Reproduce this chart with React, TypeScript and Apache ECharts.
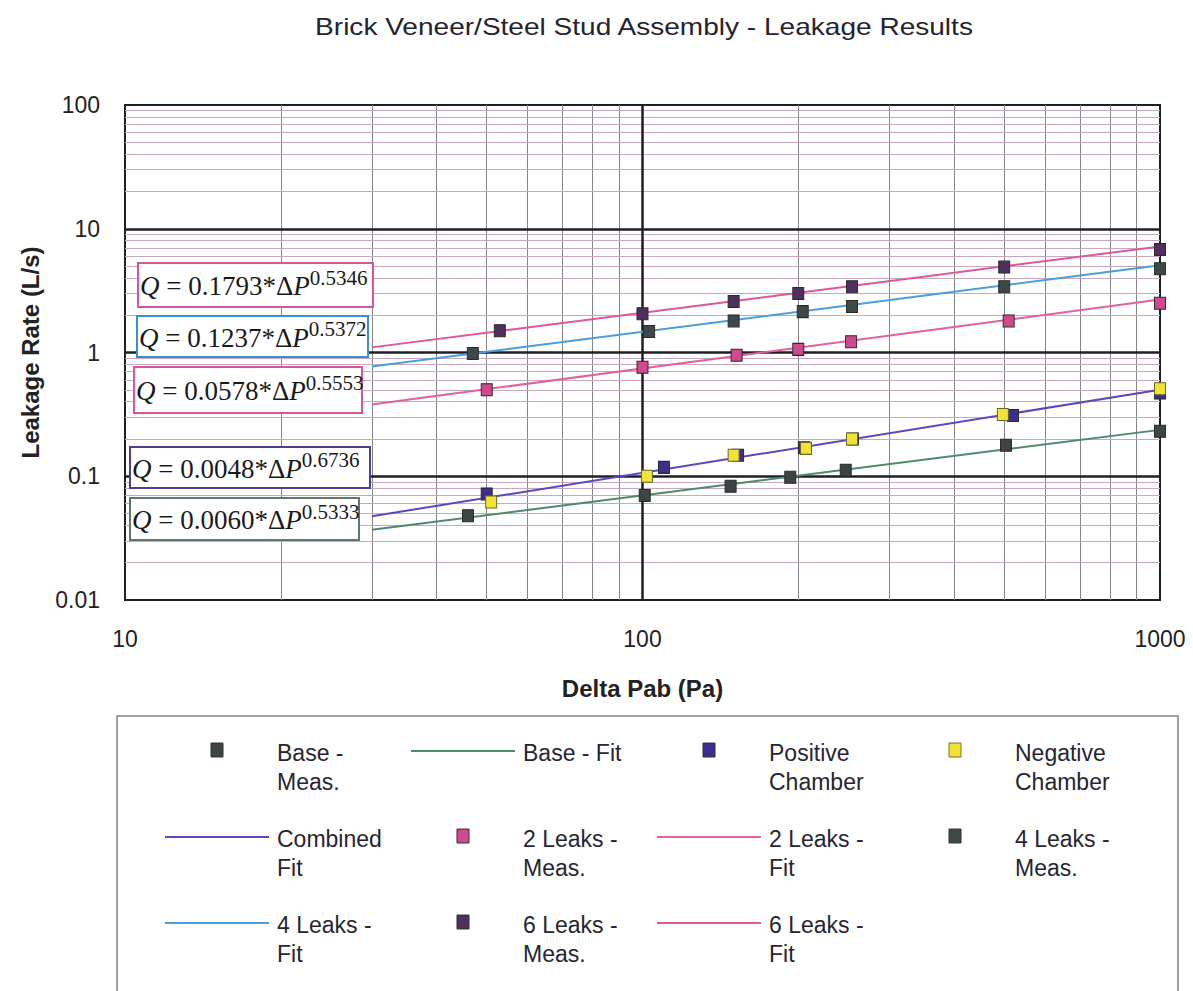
import React, { useEffect, useRef } from "react";
import * as echarts from "echarts";

// ---------- data ----------
const BASE_MEAS: [number, number][] = [[46, 0.048], [101, 0.070], [148, 0.083], [193, 0.098], [247, 0.112], [504, 0.178], [1000, 0.231]];
const BASE_FIT: [number, number][] = [[30, 0.037], [1000, 0.237]];
const POSITIVE: [number, number][] = [[50, 0.072], [110, 0.118], [153, 0.148], [205, 0.170], [255, 0.200], [520, 0.31], [1000, 0.47]];
const NEGATIVE: [number, number][] = [[51, 0.062], [102, 0.100], [150, 0.148], [207, 0.168], [254, 0.200], [497, 0.316], [1000, 0.51]];
const COMBINED_FIT: [number, number][] = [[30, 0.0475], [1000, 0.50]];
const LEAKS2_MEAS: [number, number][] = [[50, 0.50], [100, 0.76], [152, 0.95], [200, 1.06], [253, 1.22], [510, 1.80], [1000, 2.50]];
const LEAKS2_FIT: [number, number][] = [[30, 0.38], [1000, 2.68]];
const LEAKS4_MEAS: [number, number][] = [[47, 0.98], [103, 1.48], [150, 1.80], [204, 2.14], [254, 2.35], [500, 3.40], [1000, 4.75]];
const LEAKS4_FIT: [number, number][] = [[30, 0.77], [1000, 5.06]];
const LEAKS6_MEAS: [number, number][] = [[53, 1.50], [100, 2.06], [150, 2.58], [200, 3.00], [254, 3.40], [500, 4.90], [1000, 6.80]];
const LEAKS6_FIT: [number, number][] = [[30, 1.10], [1000, 7.20]];

const EQ_COEFS = ["0.1793", "0.1237", "0.0578", "0.0048", "0.0060"];
const EQ_EXPS = ["0.5346", "0.5372", "0.5553", "0.6736", "0.5333"];

const X_MAJOR = [100];
const Y_MAJOR = [0.1, 1, 10];
const X_MINOR = [20, 30, 40, 50, 60, 70, 80, 90, 200, 300, 400, 500, 600, 700, 800, 900];
const Y_MINOR = [
  0.02, 0.03, 0.04, 0.05, 0.06, 0.07, 0.08, 0.09,
  0.2, 0.3, 0.4, 0.5, 0.6, 0.7, 0.8, 0.9,
  2, 3, 4, 5, 6, 7, 8, 9,
  20, 30, 40, 50, 60, 70, 80, 90,
];

const TITLE = "Brick Veneer/Steel Stud Assembly - Leakage Results";
const X_NAME = "Delta Pab (Pa)";
const Y_NAME = "Leakage Rate (L/s)";

// ---------- styles / layout ----------
const C = {
  baseMeas: "#3c4446",
  baseFit: "#4e8a68",
  positive: "#3a2f90",
  negative: "#f2e232",
  combinedFit: "#5a48c0",
  leaks2Meas: "#d0488e",
  leaks2Fit: "#e2609f",
  leaks4Meas: "#3e4848",
  leaks4Fit: "#4a9ee0",
  leaks6Meas: "#4e3060",
  leaks6Fit: "#e0569a",
};

const EQ_BOXES = [
  { l: 138, t: 263, w: 235, h: 44, color: "#d9559a" },
  { l: 137, t: 316, w: 231, h: 41, color: "#3b8ed6" },
  { l: 134, t: 367, w: 228, h: 46, color: "#d9559a" },
  { l: 130, t: 447, w: 240, h: 41, color: "#4a3f96" },
  { l: 130, t: 498, w: 229, h: 42, color: "#5f7570" },
];

type LegendItem = { name: string; kind: "marker" | "line"; color: string; border?: string; col: number; row: number };
const LEGEND: LegendItem[] = [
  { name: "Base -\nMeas.", kind: "marker", color: C.baseMeas, col: 0, row: 0 },
  { name: "Base - Fit", kind: "line", color: C.baseFit, col: 1, row: 0 },
  { name: "Positive\nChamber", kind: "marker", color: C.positive, col: 2, row: 0 },
  { name: "Negative\nChamber", kind: "marker", color: C.negative, border: "#7a7030", col: 3, row: 0 },
  { name: "Combined\nFit", kind: "line", color: C.combinedFit, col: 0, row: 1 },
  { name: "2 Leaks -\nMeas.", kind: "marker", color: C.leaks2Meas, col: 1, row: 1 },
  { name: "2 Leaks -\nFit", kind: "line", color: C.leaks2Fit, col: 2, row: 1 },
  { name: "4 Leaks -\nMeas.", kind: "marker", color: C.leaks4Meas, col: 3, row: 1 },
  { name: "4 Leaks -\nFit", kind: "line", color: C.leaks4Fit, col: 0, row: 2 },
  { name: "6 Leaks -\nMeas.", kind: "marker", color: C.leaks6Meas, col: 1, row: 2 },
  { name: "6 Leaks -\nFit", kind: "line", color: C.leaks6Fit, col: 2, row: 2 },
];
const LEG_TEXT_X = [277, 523, 769, 1015];
const LEG_ROW_Y = [745, 831, 917];

const SANS = '"Liberation Sans", Arial, sans-serif';
const SERIF = '"Liberation Serif", "Times New Roman", serif';

function scatter(name: string, data: [number, number][], color: string, border = "#2a2a2a") {
  return {
    type: "scatter",
    name,
    data,
    symbol: "rect",
    symbolSize: [11, 12],
    z: 5,
    itemStyle: { color, borderColor: border, borderWidth: 1, opacity: 1 },
  };
}
function fit(name: string, data: [number, number][], color: string) {
  return {
    type: "line",
    name,
    data,
    symbol: "none",
    showSymbol: false,
    z: 4,
    lineStyle: { color, width: 2 },
  };
}

export default function App() {
  const ref = useRef<HTMLDivElement>(null);
  useEffect(() => {
    document.body.style.margin = "0";
    document.body.style.overflow = "hidden";
    const chart = echarts.init(ref.current!, null, { renderer: "svg" });

    const graphics: any[] = [];
    // title
    graphics.push({
      type: "text",
      x: 644,
      y: 27,
      scaleX: 1.22,
      z: 10,
      style: { text: TITLE, font: `normal 23px ${SANS}`, fill: "#24242f", align: "center", verticalAlign: "middle" },
    });
    // equation boxes
    EQ_BOXES.forEach((b, i) => {
      graphics.push({
        type: "rect",
        z: 10,
        shape: { x: b.l, y: b.t, width: b.w, height: b.h },
        style: { fill: "#fff", stroke: b.color, lineWidth: 2 },
      });
      graphics.push({
        type: "text",
        z: 11,
        x: b.l + 2,
        y: b.t + b.h / 2 + 1,
        style: {
          text: `{q|Q}{n| = ${EQ_COEFS[i]}*Δ}{q|P}{s|${EQ_EXPS[i]}}`,
          align: "left",
          verticalAlign: "middle",
          fill: "#1a1a1a",
          rich: {
            q: { fontFamily: SERIF, fontStyle: "italic", fontSize: 27, lineHeight: 38, fill: "#1a1a1a" },
            n: { fontFamily: SERIF, fontSize: 27, lineHeight: 38, fill: "#1a1a1a" },
            s: { fontFamily: SERIF, fontSize: 21, lineHeight: 21, verticalAlign: "top", fill: "#1a1a1a" },
          },
        },
      });
    });
    // legend box
    graphics.push({
      type: "rect",
      z: 10,
      shape: { x: 117, y: 716, width: 1061, height: 300 },
      style: { fill: "#fff", stroke: "#a0a0a8", lineWidth: 2 },
    });
    LEGEND.forEach((it) => {
      const tx = LEG_TEXT_X[it.col];
      const ty = LEG_ROW_Y[it.row];
      if (it.kind === "marker") {
        graphics.push({
          type: "rect",
          z: 11,
          shape: { x: tx - 66, y: ty - 2, width: 12, height: 14 },
          style: { fill: it.color, stroke: it.border || "#333", lineWidth: 1 },
        });
      } else {
        graphics.push({
          type: "line",
          z: 11,
          shape: { x1: tx - 112, y1: ty + 6, x2: tx - 8, y2: ty + 6 },
          style: { stroke: it.color, lineWidth: 2 },
        });
      }
      graphics.push({
        type: "text",
        z: 11,
        x: tx,
        y: ty - 7,
        style: { text: it.name, font: `normal 23px ${SANS}`, lineHeight: 29, fill: "#262630", align: "left", verticalAlign: "top" },
      });
    });

    const option: any = {
      animation: false,
      backgroundColor: "#fff",
      grid: { left: 125, top: 105, width: 1035, height: 495, show: true, borderColor: "#1e1e24", borderWidth: 2, backgroundColor: "#fff", containLabel: false },
      xAxis: {
        type: "log",
        logBase: 10,
        min: 10,
        max: 1000,
        name: X_NAME,
        nameLocation: "middle",
        nameGap: 76,
        nameTextStyle: { fontFamily: SANS, fontWeight: "bold", fontSize: 24, color: "#222" },
        axisLine: { show: false },
        axisTick: { show: false },
        splitLine: { show: false },
        axisLabel: { fontFamily: SANS, fontSize: 23, color: "#222", margin: 27, formatter: (v: number) => String(v) },
      },
      yAxis: {
        type: "log",
        logBase: 10,
        min: 0.01,
        max: 100,
        name: Y_NAME,
        nameLocation: "middle",
        nameGap: 83,
        nameRotate: 90,
        nameTextStyle: { fontFamily: SANS, fontWeight: "bold", fontSize: 24, color: "#222" },
        axisLine: { show: false },
        axisTick: { show: false },
        splitLine: { show: false },
        axisLabel: { fontFamily: SANS, fontSize: 23, color: "#222", margin: 25, formatter: (v: number) => String(v) },
      },
      graphic: graphics,
      series: [
        {
          type: "line",
          name: "minor-grid",
          data: [],
          silent: true,
          z: 1,
          markLine: {
            silent: true,
            z: 1,
            symbol: ["none", "none"],
            label: { show: false },
            emphasis: { disabled: true },
            animation: false,
            data: [
              ...X_MINOR.map((v) => ({ xAxis: v, lineStyle: { color: "#858589", width: 1, type: "solid" } })),
              ...Y_MINOR.map((v) => ({ yAxis: v, lineStyle: { color: "#c8a8bf", width: 1, type: "solid" } })),
            ],
          },
        },
        {
          type: "line",
          name: "major-grid",
          data: [],
          silent: true,
          z: 2,
          markLine: {
            silent: true,
            z: 2,
            symbol: ["none", "none"],
            label: { show: false },
            emphasis: { disabled: true },
            animation: false,
            data: [
              ...X_MAJOR.map((v) => ({ xAxis: v, lineStyle: { color: "#1e1e24", width: 2.5, type: "solid" } })),
              ...Y_MAJOR.map((v) => ({ yAxis: v, lineStyle: { color: "#1e1e24", width: 2.5, type: "solid" } })),
            ],
          },
        },
        fit("Base - Fit", BASE_FIT, C.baseFit),
        fit("Combined Fit", COMBINED_FIT, C.combinedFit),
        fit("2 Leaks - Fit", LEAKS2_FIT, C.leaks2Fit),
        fit("4 Leaks - Fit", LEAKS4_FIT, C.leaks4Fit),
        fit("6 Leaks - Fit", LEAKS6_FIT, C.leaks6Fit),
        scatter("Base - Meas.", BASE_MEAS, C.baseMeas),
        scatter("Positive Chamber", POSITIVE, C.positive),
        scatter("Negative Chamber", NEGATIVE, C.negative, "#6a6430"),
        scatter("2 Leaks - Meas.", LEAKS2_MEAS, C.leaks2Meas),
        scatter("4 Leaks - Meas.", LEAKS4_MEAS, C.leaks4Meas),
        scatter("6 Leaks - Meas.", LEAKS6_MEAS, C.leaks6Meas),
      ],
    };
    chart.setOption(option);
    return () => chart.dispose();
  }, []);
  return <div ref={ref} style={{ width: 1193, height: 991 }} />;
}
